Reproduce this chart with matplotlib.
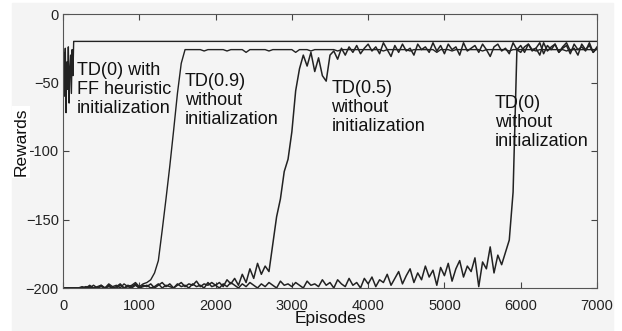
import numpy as np
import matplotlib.pyplot as plt
from matplotlib.patches import Rectangle

plt.rcParams['font.family'] = ['Liberation Sans', 'DejaVu Sans']

# episode grid for the three runs without initialization
episodes = np.arange(0, 7001, 50)

# TD(0) with FF heuristic initialization (short oscillation, then flat)
ff_episodes = [0, 10, 20, 30, 40, 50, 60, 70, 80, 90, 100, 110, 120, 130, 140, 150, 7000]
ff_rewards = [-70, -28, -60, -25, -72, -35, -55, -24, -65, -40, -30, -58, -26, -45, -20, -20, -20]

td09_rewards = [
    -200, -200, -200, -200, -200, -199, -200, -198, -200, -199, -198, -200, -197, -199, -198, -200, -197, -199, -198, -196,
    -199, -197, -196, -194, -189, -180, -158, -135, -111, -85, -58, -36, -26, -26, -26, -26, -26, -27, -26, -26,
    -26, -26, -26, -27, -26, -26, -26, -26, -28, -26, -26, -26, -26, -26, -27, -26, -26, -26, -26, -26,
    -26, -28, -26, -26, -26, -27, -26, -26, -26, -26, -26, -26, -27, -26, -26, -26, -26, -26, -26, -26,
    -26, -26, -26, -26, -27, -26, -26, -26, -26, -26, -26, -27, -26, -26, -26, -26, -26, -26, -28, -26,
    -26, -26, -27, -26, -26, -26, -26, -26, -26, -26, -27, -26, -26, -26, -26, -26, -26, -27, -26, -26,
    -26, -26, -26, -26, -27, -26, -26, -26, -26, -26, -26, -26, -27, -26, -26, -26, -26, -26, -26, -26,
    -26,
]

td05_rewards = [
    -200, -200, -200, -200, -200, -200, -199, -200, -198, -200, -199, -200, -198, -200, -199, -197, -200, -198, -199, -197,
    -200, -198, -199, -197, -200, -198, -196, -199, -197, -200, -198, -196, -199, -197, -198, -195, -199, -197, -198, -196,
    -198, -196, -199, -194, -197, -193, -198, -190, -196, -186, -193, -182, -190, -184, -188, -168, -148, -135, -115, -106,
    -86, -56, -40, -30, -38, -28, -42, -32, -45, -49, -30, -27, -33, -25, -30, -24, -28, -23, -29, -25,
    -22, -27, -24, -29, -21, -26, -31, -23, -28, -22, -27, -25, -30, -22, -26, -24, -28, -21, -27, -23,
    -29, -22, -26, -24, -30, -21, -27, -25, -23, -28, -22, -26, -31, -24, -22, -27, -25, -29, -21, -26,
    -23, -28, -22, -26, -25, -30, -21, -27, -24, -22, -28, -25, -23, -29, -22, -26, -24, -27, -21, -28,
    -25,
]

td0_rewards = [
    -200, -200, -200, -200, -200, -200, -200, -199, -200, -200, -198, -200, -199, -200, -200, -198, -200, -199, -200, -198,
    -200, -199, -198, -200, -199, -197, -200, -198, -199, -200, -197, -199, -198, -200, -197, -199, -198, -200, -196, -199,
    -198, -200, -197, -199, -196, -198, -200, -197, -199, -196, -198, -200, -197, -199, -196, -198, -200, -195, -198, -197,
    -199, -196, -198, -200, -195, -198, -197, -199, -194, -198, -196, -200, -194, -197, -199, -193, -198, -196, -200, -193,
    -197, -192, -199, -194, -196, -190, -198, -193, -188, -197, -191, -186, -196, -189, -194, -184, -192, -187, -198, -185,
    -191, -182, -195, -186, -180, -192, -184, -188, -178, -199, -181, -186, -170, -189, -176, -183, -174, -165, -130, -26,
    -28, -24, -22, -27, -25, -21, -29, -23, -26, -22, -28, -24, -21, -27, -25, -30, -22, -26, -23, -28,
    -24,
]

x_ticks = [0, 1000, 2000, 3000, 4000, 5000, 6000, 7000]
y_ticks = [-200, -150, -100, -50, 0]

bg = '#f4f4f4'
ink = '#222222'

fig = plt.figure(figsize=(6.22, 3.31), dpi=100, facecolor='white')
fig.patches.append(Rectangle((12 / 622, 0), 601 / 622, 1 - 3 / 331,
                             transform=fig.transFigure, color=bg, zorder=-10))
ax = fig.add_axes([63 / 622, 43 / 331, 534 / 622, 274 / 331])
ax.set_facecolor(bg)

ax.plot(episodes, td0_rewards, color=ink, lw=1.1)
ax.plot(episodes, td05_rewards, color=ink, lw=1.1)
ax.plot(episodes, td09_rewards, color=ink, lw=1.0)
ax.plot(ff_episodes, ff_rewards, color=ink, lw=1.0)

ax.set_xlim(0, 7000)
ax.set_ylim(-200, 0)
ax.set_xticks(x_ticks)
ax.set_yticks(y_ticks)
ax.tick_params(direction='in', top=True, right=True, length=4, width=0.8,
               colors='#444444', labelcolor='#222222', labelsize=10.5)
ax.tick_params(axis='x', pad=8)
ax.tick_params(axis='y', pad=3)
for s in ax.spines.values():
    s.set_color('#555555')
    s.set_linewidth(0.8)

ax.set_xlabel('Episodes', fontsize=12.5, color='#111111')
ax.set_ylabel('Rewards', fontsize=12.5, color='#111111',
              bbox=dict(facecolor='white', edgecolor='none', pad=1))
ax.xaxis.set_label_coords(0.5, -0.085)
ax.yaxis.set_label_coords(-0.064, 0.533)

# va='baseline' on multi-line text anchors the last line's baseline
txt = dict(fontsize=13, color='#111111', va='baseline', ha='left', linespacing=1.15)
ax.text(180, -72.5, 'TD(0) with\nFF heuristic\ninitialization', **txt)
ax.text(1600, -80.3, 'TD(0.9)\nwithout\ninitialization', **txt)
ax.text(3520, -85.2, 'TD(0.5)\nwithout\ninitialization', **txt)
ax.text(5660, -96.4, 'TD(0)\nwithout\ninitialization', **txt)

fig.savefig('out.png', dpi=100, facecolor=fig.get_facecolor())
